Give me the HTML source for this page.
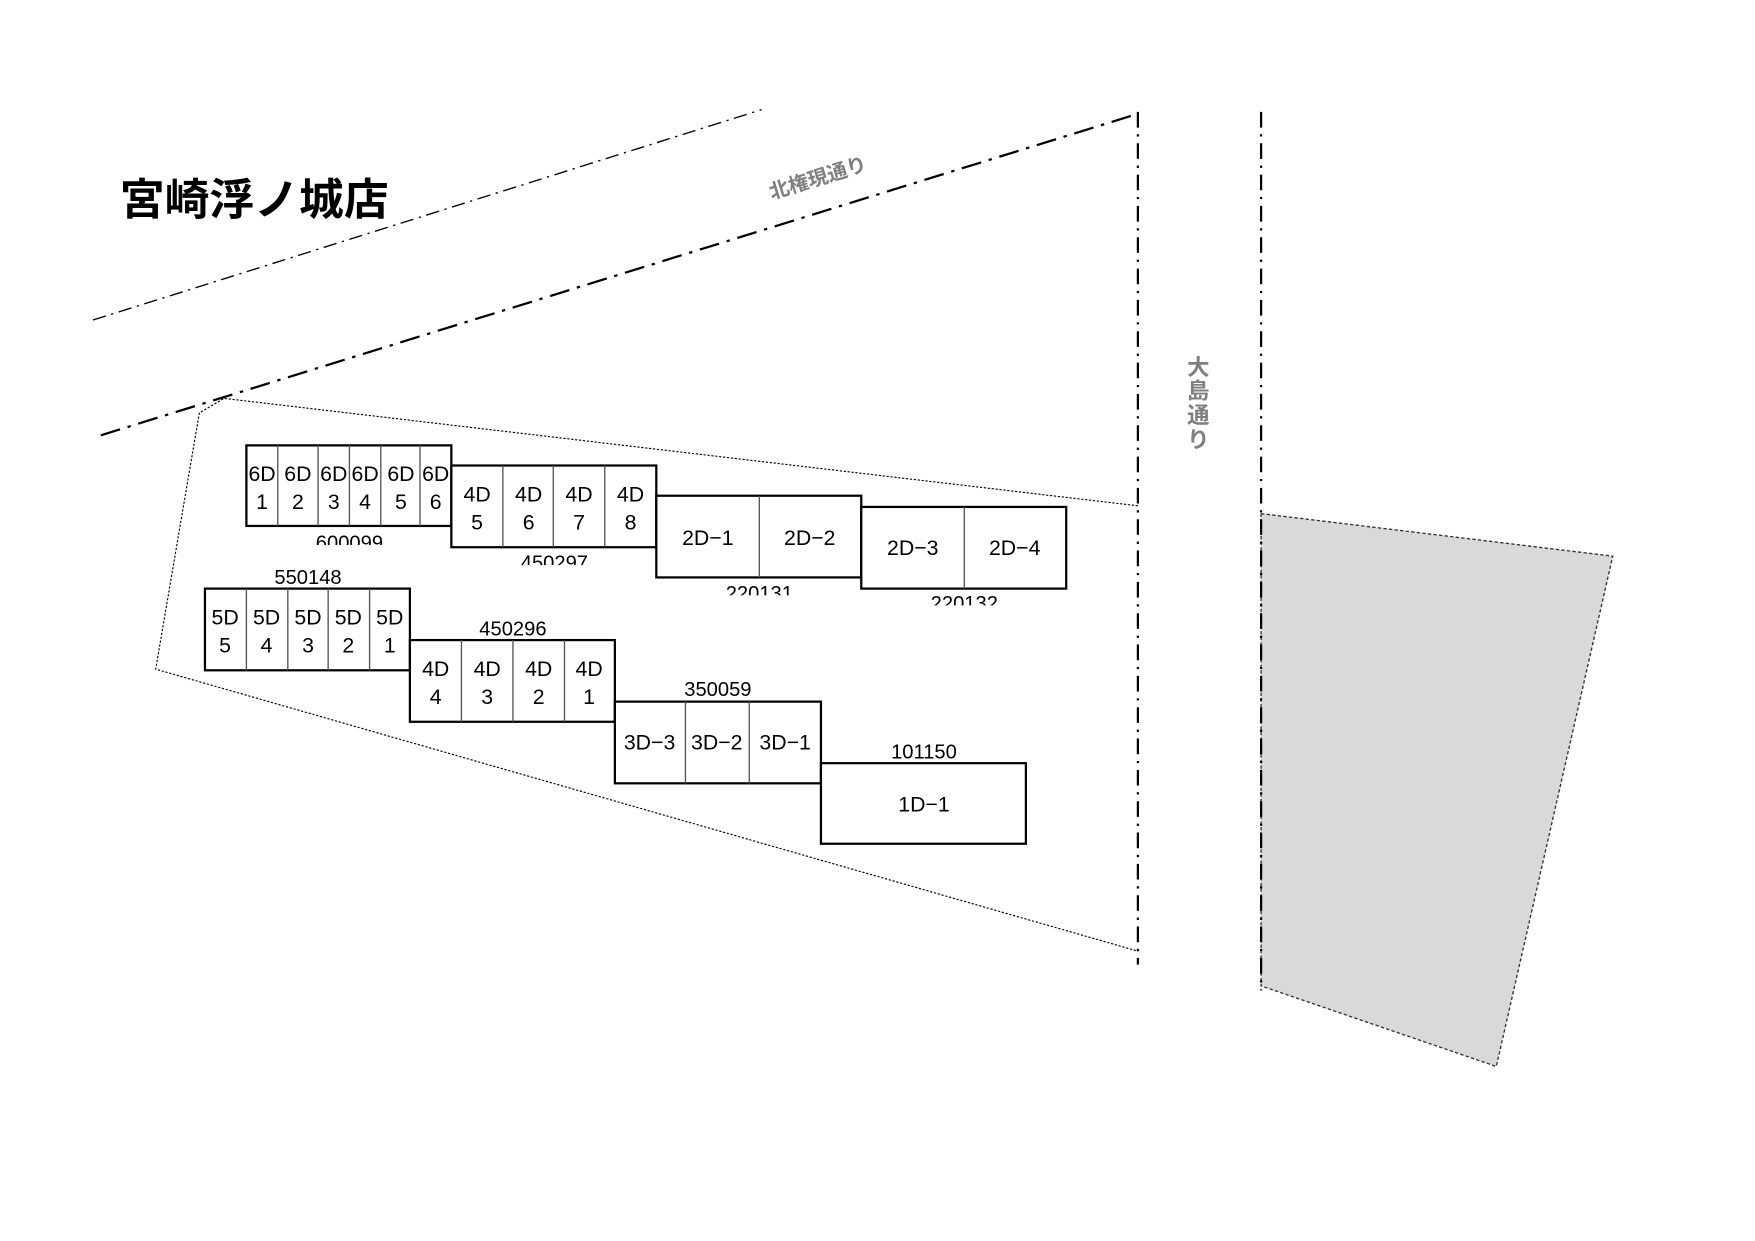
<!DOCTYPE html>
<html><head><meta charset="utf-8"><style>html,body{margin:0;padding:0;background:#fff}svg{display:block}</style></head>
<body>
<svg width="1755" height="1241" viewBox="0 0 1567 1109" preserveAspectRatio="none" xmlns="http://www.w3.org/2000/svg" font-family="'Liberation Sans','Noto Sans CJK JP',sans-serif">
<rect width="1567" height="1109" fill="#fff"/>
<polygon points="1126,459 1440,497 1336,953 1126,881" fill="#d9d9d9" stroke="#333" stroke-width="1.2" stroke-dasharray="3,2"/>
<g fill="none" stroke="#000">
<line x1="83" y1="286" x2="680" y2="98" stroke-width="1.2" stroke-dasharray="12,5,2,5"/>
<line x1="90" y1="389" x2="1015" y2="102" stroke-width="2" stroke-dasharray="18,7,3,7"/>
<line x1="1016" y1="100" x2="1016" y2="862" stroke-width="2" stroke-dasharray="14,6,2,6"/>
<line x1="1126" y1="100" x2="1126" y2="885" stroke-width="2" stroke-dasharray="14,6,2,6"/>
<polyline points="1016,452 200,356 178,369 139,598 1016,850" stroke-width="1" stroke-dasharray="2,1.5"/>
</g>
<text x="107" y="192" font-size="39" font-weight="bold" textLength="240" lengthAdjust="spacingAndGlyphs">宮崎浮ノ城店</text>
<text transform="translate(732,165) rotate(-17)" font-size="18" font-weight="bold" fill="#7f7f7f" text-anchor="middle">北権現通り</text>
<g font-size="20" font-weight="bold" fill="#7f7f7f" text-anchor="middle">
<text x="1070" y="335">大</text><text x="1070" y="356">島</text><text x="1070" y="378">通</text><text x="1070" y="400">り</text>
</g>
<g font-size="18" text-anchor="middle">
<text x="312" y="491">600099</text>
<text x="495" y="509">450297</text>
<text x="678" y="536">220131</text>
<text x="861" y="545">220132</text>
</g>
<rect x="250" y="487" width="130" height="10" fill="#fff"/>
<rect x="440" y="505" width="120" height="10" fill="#fff"/>
<rect x="620" y="532" width="120" height="10" fill="#fff"/>
<rect x="800" y="541" width="120" height="10" fill="#fff"/>
<g font-size="18" text-anchor="middle">
<text x="275" y="522">550148</text>
<text x="458" y="568">450296</text>
<text x="641" y="622">350059</text>
<text x="825" y="678">101150</text>
</g>
<g fill="#fff" stroke="#000" stroke-width="2">
<rect x="220" y="398" width="183" height="72"/>
<rect x="403" y="416" width="183" height="73"/>
<rect x="586" y="443" width="183" height="73"/>
<rect x="769" y="453" width="183" height="73"/>
<rect x="183" y="526" width="183" height="73"/>
<rect x="366" y="572" width="183" height="73"/>
<rect x="549" y="627" width="184" height="73"/>
<rect x="733" y="682" width="183" height="72"/>
</g>
<g stroke="#555" stroke-width="1.2">
<line x1="248" y1="398" x2="248" y2="470"/><line x1="284" y1="398" x2="284" y2="470"/><line x1="312" y1="398" x2="312" y2="470"/><line x1="340" y1="398" x2="340" y2="470"/><line x1="375" y1="398" x2="375" y2="470"/>
<line x1="449" y1="416" x2="449" y2="489"/><line x1="494" y1="416" x2="494" y2="489"/><line x1="540" y1="416" x2="540" y2="489"/>
<line x1="678" y1="443" x2="678" y2="516"/>
<line x1="861" y1="453" x2="861" y2="526"/>
<line x1="220" y1="526" x2="220" y2="599"/><line x1="257" y1="526" x2="257" y2="599"/><line x1="293" y1="526" x2="293" y2="599"/><line x1="330" y1="526" x2="330" y2="599"/>
<line x1="412" y1="572" x2="412" y2="645"/><line x1="458" y1="572" x2="458" y2="645"/><line x1="504" y1="572" x2="504" y2="645"/>
<line x1="612" y1="627" x2="612" y2="700"/><line x1="669" y1="627" x2="669" y2="700"/>
</g>
<g font-size="19" text-anchor="middle">
<text x="234" y="430">6D</text><text x="234" y="455">1</text>
<text x="266" y="430">6D</text><text x="266" y="455">2</text>
<text x="298" y="430">6D</text><text x="298" y="455">3</text>
<text x="326" y="430">6D</text><text x="326" y="455">4</text>
<text x="358" y="430">6D</text><text x="358" y="455">5</text>
<text x="389" y="430">6D</text><text x="389" y="455">6</text>
<text x="426" y="448">4D</text><text x="426" y="473">5</text>
<text x="472" y="448">4D</text><text x="472" y="473">6</text>
<text x="517" y="448">4D</text><text x="517" y="473">7</text>
<text x="563" y="448">4D</text><text x="563" y="473">8</text>
<text x="632" y="487">2D−1</text><text x="723" y="487">2D−2</text>
<text x="815" y="496">2D−3</text><text x="906" y="496">2D−4</text>
<text x="201" y="558">5D</text><text x="201" y="583">5</text>
<text x="238" y="558">5D</text><text x="238" y="583">4</text>
<text x="275" y="558">5D</text><text x="275" y="583">3</text>
<text x="311" y="558">5D</text><text x="311" y="583">2</text>
<text x="348" y="558">5D</text><text x="348" y="583">1</text>
<text x="389" y="604">4D</text><text x="389" y="629">4</text>
<text x="435" y="604">4D</text><text x="435" y="629">3</text>
<text x="481" y="604">4D</text><text x="481" y="629">2</text>
<text x="526" y="604">4D</text><text x="526" y="629">1</text>
<text x="580" y="670">3D−3</text><text x="640" y="670">3D−2</text><text x="701" y="670">3D−1</text>
<text x="825" y="725">1D−1</text>
</g>
</svg>
</body></html>
